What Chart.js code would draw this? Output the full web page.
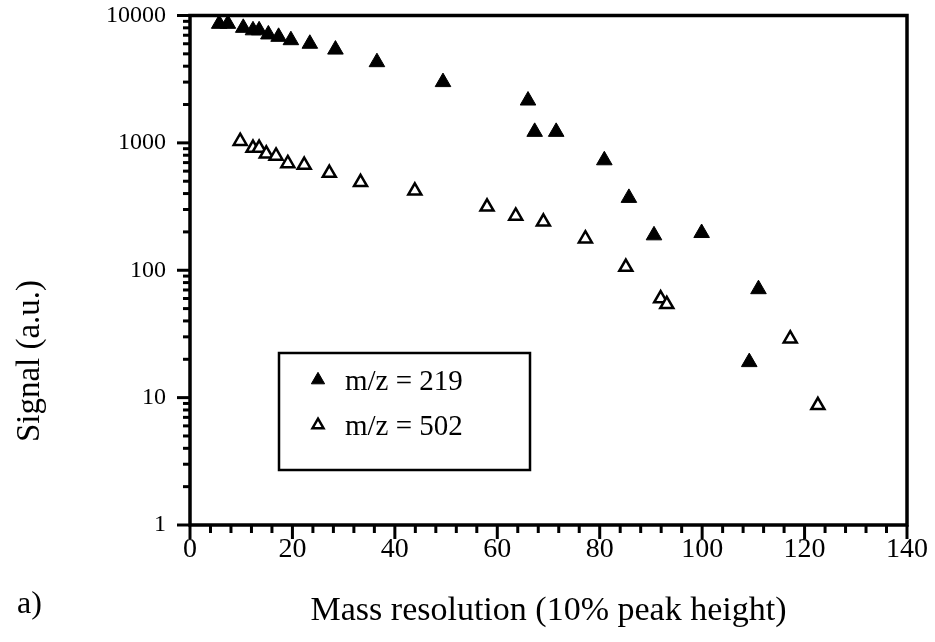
<!DOCTYPE html>
<html>
<head>
<meta charset="utf-8">
<script src="https://cdn.jsdelivr.net/npm/chart.js@4"></script>
<style>
  body { margin: 0; background: #fff; }
</style>
</head>
<body>
<canvas id="chart" width="935" height="642"></canvas>
<script>
// mass resolution (x) and signal (y) for both ions
const res219 = [5.7, 7.4, 10.4, 12.3, 13.5, 15.3, 17.3, 19.7, 23.4, 28.4, 36.5, 49.4, 66.0, 67.3, 71.5, 80.9, 85.7, 90.6, 99.9, 111.0, 109.2];
const sig219 = [8600, 8600, 8000, 7650, 7650, 7100, 6800, 6400, 6000, 5400, 4300, 3000, 2150, 1220, 1220, 730, 370, 188, 196, 71, 19];
const res502 = [9.8, 12.3, 13.5, 14.9, 16.8, 19.1, 22.3, 27.2, 33.3, 43.9, 58.0, 63.6, 69.0, 77.2, 85.1, 91.9, 93.1, 117.2, 122.6];
const sig502 = [1030, 910, 910, 820, 790, 690, 670, 580, 490, 420, 315, 267, 240, 177, 106, 60, 54, 29, 8.7];

const seriesLabels = ["m/z = 219", "m/z = 502"];
const xTicks = [0, 20, 40, 60, 80, 100, 120, 140];
const yTicks = [1, 10, 100, 1000, 10000];

const serif = "'Liberation Serif', 'DejaVu Serif', serif";

function toPoints(xs, ys) {
    return xs.map((x, i) => ({ x: x, y: ys[i] }));
}

function triangle(ctx, x, y, r) {
    ctx.beginPath();
    for (let k = 0; k < 3; k++) {
        const a = k * 2 * Math.PI / 3;
        const px = x + Math.sin(a) * r;
        const py = y - Math.cos(a) * r;
        if (k === 0) ctx.moveTo(px, py); else ctx.lineTo(px, py);
    }
    ctx.closePath();
}

// frame, tick marks, legend box and free text
const decorations = {
    id: "decorations",
    afterDraw(chart) {
        const ctx = chart.ctx;
        const a = chart.chartArea;
        const xs = chart.scales.x;
        const ys = chart.scales.y;
        ctx.save();
        ctx.strokeStyle = "#000";
        ctx.lineCap = "butt";

        ctx.lineWidth = 3;
        for (let v = 0; v <= 140; v += 4) {
            const px = xs.getPixelForValue(v);
            const len = v % 20 === 0 ? 14 : 8;
            ctx.beginPath();
            ctx.moveTo(px, a.bottom);
            ctx.lineTo(px, a.bottom + len);
            ctx.stroke();
        }
        for (let d = 1; d <= 10000; d *= 10) {
            for (let m = 1; m <= 9; m++) {
                const v = d * m;
                if (v > 10000) break;
                const py = ys.getPixelForValue(v);
                const len = m === 1 ? 13 : 7;
                ctx.beginPath();
                ctx.moveTo(a.left, py);
                ctx.lineTo(a.left - len, py);
                ctx.stroke();
            }
        }

        ctx.lineWidth = 3.5;
        ctx.strokeRect(a.left, a.top, a.right - a.left, a.bottom - a.top);

        // legend
        ctx.lineWidth = 2.5;
        ctx.strokeRect(279, 353, 251, 117);
        const rows = [382, 427];
        chart.data.datasets.forEach((ds, i) => {
            triangle(ctx, 318, rows[i] - 2, ds.pointRadius * 0.85);
            ctx.fillStyle = ds.pointBackgroundColor;
            ctx.fill();
            ctx.lineWidth = ds.pointBorderWidth;
            ctx.stroke();
            ctx.fillStyle = "#000";
            ctx.font = "29px " + serif;
            ctx.textAlign = "left";
            ctx.textBaseline = "middle";
            ctx.fillText(ds.label, 345, rows[i]);
        });

        // y axis title
        ctx.save();
        ctx.translate(30, 361);
        ctx.rotate(-Math.PI / 2);
        ctx.font = "33px " + serif;
        ctx.textAlign = "center";
        ctx.textBaseline = "middle";
        ctx.fillText("Signal (a.u.)", 0, 0);
        ctx.restore();

        ctx.font = "32px " + serif;
        ctx.textAlign = "left";
        ctx.textBaseline = "middle";
        ctx.fillText("a)", 17, 605);
        ctx.restore();
    }
};

new Chart(document.getElementById("chart"), {
    type: "scatter",
    data: {
        datasets: [
            {
                label: seriesLabels[0],
                data: toPoints(res219, sig219),
                pointStyle: "triangle",
                pointRadius: 9,
                pointBackgroundColor: "#000",
                pointBorderColor: "#000",
                pointBorderWidth: 1,
            },
            {
                label: seriesLabels[1],
                data: toPoints(res502, sig502),
                pointStyle: "triangle",
                pointRadius: 7.5,
                pointBackgroundColor: "#fff",
                pointBorderColor: "#000",
                pointBorderWidth: 2.5,
            },
        ],
    },
    options: {
        responsive: false,
        animation: false,
        clip: false,
        layout: { padding: { left: 0, right: 28, top: 15.5, bottom: 0 } },
        plugins: {
            legend: { display: false },
            tooltip: { enabled: false },
        },
        scales: {
            x: {
                type: "linear",
                min: 0,
                max: 140,
                afterBuildTicks: (scale) => { scale.ticks = xTicks.map((v) => ({ value: v })); },
                afterFit: (scale) => {
                    scale.height = 117;
                    scale.paddingLeft = 0;
                    scale.paddingRight = 0;
                },
                grid: { display: false, drawTicks: false },
                border: { display: false },
                ticks: {
                    padding: 8,
                    color: "#000",
                    font: { family: serif, size: 28 },
                    maxRotation: 0,
                },
                title: {
                    display: true,
                    text: "Mass resolution (10% peak height)",
                    color: "#000",
                    font: { family: serif, size: 34 },
                    padding: { top: 0, bottom: 11 },
                },
            },
            y: {
                type: "logarithmic",
                min: 1,
                max: 10000,
                afterBuildTicks: (scale) => { scale.ticks = yTicks.map((v) => ({ value: v })); },
                afterFit: (scale) => {
                    scale.width = 190;
                    scale.paddingTop = 0;
                    scale.paddingBottom = 0;
                },
                grid: { display: false, drawTicks: false },
                border: { display: false },
                ticks: {
                    padding: 24,
                    color: "#000",
                    font: { family: serif, size: 24 },
                    callback: (v) => String(v),
                },
            },
        },
    },
    plugins: [decorations],
});
</script>
</body>
</html>
